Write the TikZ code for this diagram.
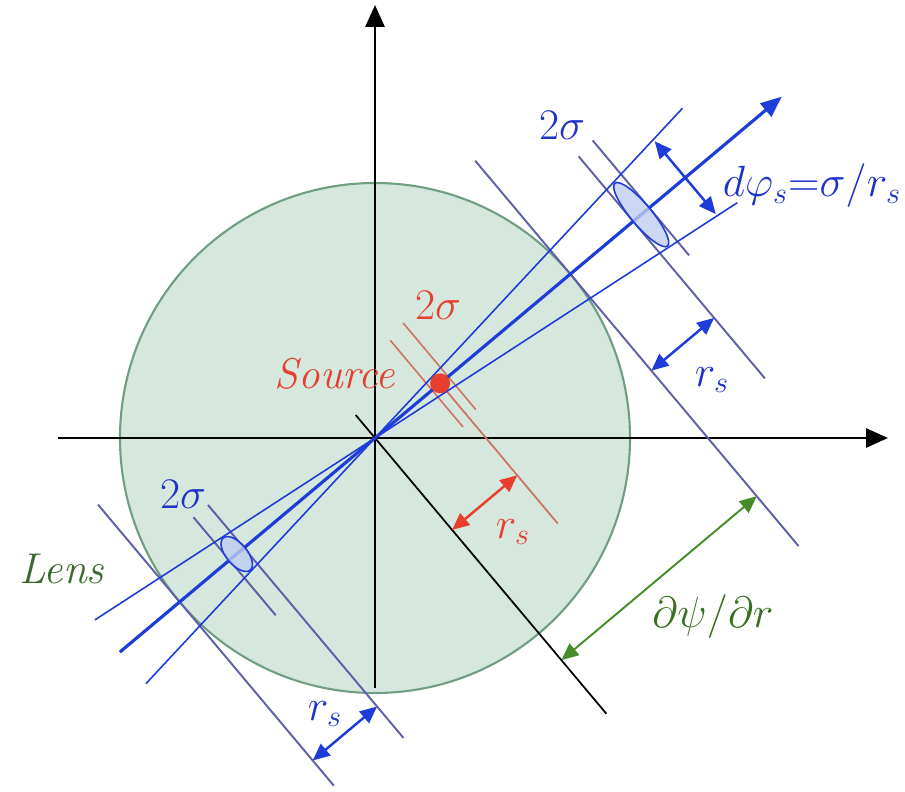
\documentclass[tikz,border=0pt]{standalone}
\usetikzlibrary{arrows.meta}
\definecolor{lensfill}{RGB}{214,231,222}
\definecolor{lensedge}{RGB}{112,158,128}
\definecolor{rayblue}{RGB}{30,60,215}
\definecolor{textblue}{RGB}{30,50,200}
\definecolor{lineviolet}{RGB}{95,95,170}
\definecolor{srcred}{RGB}{232,62,45}
\definecolor{srcline}{RGB}{205,115,100}
\definecolor{psigreen}{RGB}{70,140,40}
\definecolor{lensgreen}{RGB}{60,105,45}
\definecolor{imgfill}{RGB}{190,205,240}
\tikzset{
  axis/.style={line width=1.6pt, -{Triangle[length=0.44cm,width=0.38cm]}},
  perp/.style={lineviolet, line width=1.1pt},
  cone/.style={rayblue, line width=0.9pt},
  dimarrow/.style={line width=1.4pt, {Triangle[length=0.34cm,width=0.3cm]}-{Triangle[length=0.34cm,width=0.3cm]}},
  lbl/.style={font=\fontsize{24.5}{28}\selectfont}
}
\begin{document}
\begin{tikzpicture}[x=0.02cm,y=0.02cm]
\useasboundingbox (-375,-353) rectangle (530,438);
\def\R{255}   % rayon de la lentille
\def\rs{85}   % distance de la source
\def\sig{10.5}

% lentille et axes
\fill[lensfill] (0,0) circle (\R);
\draw[lensedge, line width=1.2pt] (0,0) circle (\R);
\draw[axis] (-317,0) -- (513,0);
\draw[axis] (0,-250) -- (0,433);

\begin{scope}[rotate=40]
% droites perpendiculaires au rayon
\draw[black, line width=1pt] (0,30) -- (0,-360);
\draw[perp] (\R,148) -- (\R,-355);
\draw[perp] (337,85) -- (337,-205);
\draw[perp] (358,88) -- (358,-62);
\draw[perp] (-\R,127) -- (-\R,-240);
\draw[perp] (-171,56) -- (-171,-248);
\draw[perp] (-190,56) -- (-190,-72);

% source
\draw[srcline, line width=0.9pt] (74.5,65) -- (74.5,-48);
\draw[srcline, line width=0.9pt] (95.5,70) -- (95.5,-43);
\draw[srcline, line width=1pt] (\rs,0) -- (\rs,-183);

% rayons
\draw[cone] (187:336) -- (7:451);
\draw[cone] (173:334) -- (-7:432);
\draw[rayblue, line width=1.8pt, -{Triangle[length=0.42cm,width=0.34cm]}] (-333,0) -- (531,0);
\fill[srcred] (\rs,0) circle (10);

% images
\draw[rayblue, fill=imgfill, fill opacity=0.8, line width=0.9pt] (347.5,0) ellipse ({\sig} and 41);
\draw[rayblue, fill=imgfill, fill opacity=0.8, line width=0.9pt] (-180.5,0) ellipse ({\sig} and 21);

% fleches de mesure
\coordinate (dphiA) at (405,47.5);
\coordinate (dphiB) at (405,-47.5);
\coordinate (rsRedA) at (0,-120);
\coordinate (rsRedB) at (\rs,-120);
\coordinate (rsUpA) at (\R,-126);
\coordinate (rsUpB) at (337,-126);
\coordinate (rsLowA) at (-\R,-207);
\coordinate (rsLowB) at (-171,-207);
\coordinate (psiA) at (0,-290);
\coordinate (psiB) at (\R,-290);
\end{scope}

\draw[dimarrow, rayblue] (dphiA) -- (dphiB);
\draw[dimarrow, srcred] (rsRedA) -- (rsRedB);
\draw[dimarrow, rayblue] (rsUpA) -- (rsUpB);
\draw[dimarrow, rayblue] (rsLowA) -- (rsLowB);
\draw[dimarrow, psigreen, line width=1.1pt] (psiA) -- (psiB);

% textes
\node[lbl, text=textblue] (sigUp) at (187,313) {$2\sigma$};
\node[lbl, text=textblue] (dphi) at (437,252) {$d\varphi_s{=}\sigma/r_s$};
\node[lbl, text=srcred] (sigSrc) at (63,133) {$2\sigma$};
\node[lbl, text=srcred] (source) at (-40,64) {\textit{Source}};
\node[lbl, text=srcred] (rsRed) at (138,-94) {$r_s$};
\node[lbl, text=textblue] (rsUp) at (337,58) {$r_s$};
\node[lbl, text=textblue] (rsLow) at (-50,-276) {$r_s$};
\node[lbl, text=textblue] (sigLow) at (-192,-56) {$2\sigma$};
\node[lbl, text=lensgreen] (lens) at (-313,-131) {\textit{Lens}};
\node[lbl, text=psigreen!80!black] (dpsi) at (338,-179) {$\partial\psi/\partial r$};
\end{tikzpicture}
\end{document}
